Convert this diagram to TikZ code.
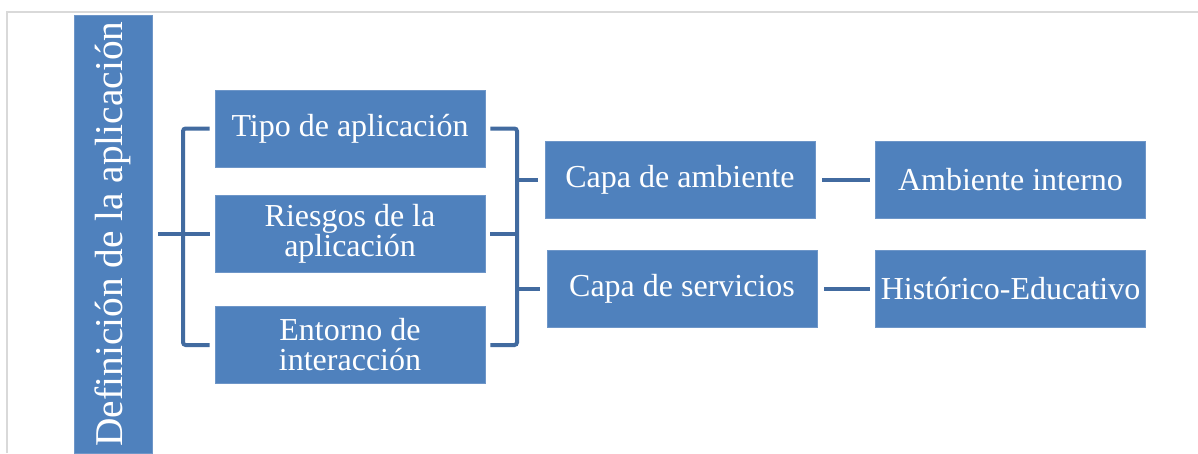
\documentclass[tikz,border=0pt]{standalone}
\usepackage{fontspec}
\setmainfont{Liberation Serif}
\begin{document}
\begin{tikzpicture}[x=0.75pt, y=-0.75pt,
    box/.style={fill=boxfill, draw=boxedge, line width=0.6pt, text=white, align=center,
      minimum width=202.5pt, minimum height=57.75pt, inner sep=2pt,
      font=\fontsize{24}{22.5}\selectfont},
    rootbox/.style={box, rotate=90, minimum width=328.5pt, minimum height=58.5pt,
      inner sep=0pt, font=\fontsize{29.5}{30}\selectfont},
    link/.style={draw=linkblue, line width=3pt, rounded corners=2pt},
    frame/.style={draw=framegray, line width=1.2pt}]
  % Define colors
  \definecolor{boxfill}{RGB}{79,129,189}
  \definecolor{boxedge}{RGB}{110,150,200}
  \definecolor{linkblue}{RGB}{66,107,160}
  \definecolor{framegray}{RGB}{217,217,217}

  \useasboundingbox (0,0) rectangle (1198,453);

  % Frame
  \draw[frame] (7,453) -- (7,12) -- (1198,12);

  % Root
  \node[rootbox] (root) at (113,234) {Definición de la aplicación};

  % First level
  \node[box] (tipo) at (350,128.5) {Tipo de aplicación};
  \node[box] (riesgos) at (350,233.5) {Riesgos de la\\aplicación};
  \node[box] (entorno) at (350,345) {Entorno de\\interacción};

  % Second level
  \node[box] (ambiente) at (680,180) {Capa de ambiente};
  \node[box] (servicios) at (682,289) {Capa de servicios};

  % Third level
  \node[box] (interno) at (1010.5,180) {Ambiente interno};
  \node[box] (historico) at (1010.5,289) {Histórico-Educativo};

  % Joints
  \coordinate (lj) at (183,0);
  \coordinate (rj) at (517,0);

  % Left bracket
  \draw[link, shorten <=4.5pt, shorten >=3.75pt] (root.south |- riesgos.west) -- (riesgos.west);
  \draw[link, shorten <=3.75pt, shorten >=3.75pt] (tipo.west) -| (lj |- entorno.west) -- (entorno.west);

  % Right bracket
  \draw[link, shorten <=3.75pt, shorten >=3.75pt] (tipo.east) -| (rj |- entorno.east) -- (entorno.east);
  \draw[link, shorten <=3.75pt] (riesgos.east) -- (rj |- riesgos.east);
  \draw[link, shorten >=5pt] (rj |- ambiente.west) -- (ambiente.west);
  \draw[link, shorten >=5pt] (rj |- servicios.west) -- (servicios.west);

  % Leaves
  \draw[link, shorten <=5pt, shorten >=3.75pt] (ambiente.east) -- (interno.west);
  \draw[link, shorten <=5pt, shorten >=3.75pt] (servicios.east) -- (historico.west);
\end{tikzpicture}
\end{document}
